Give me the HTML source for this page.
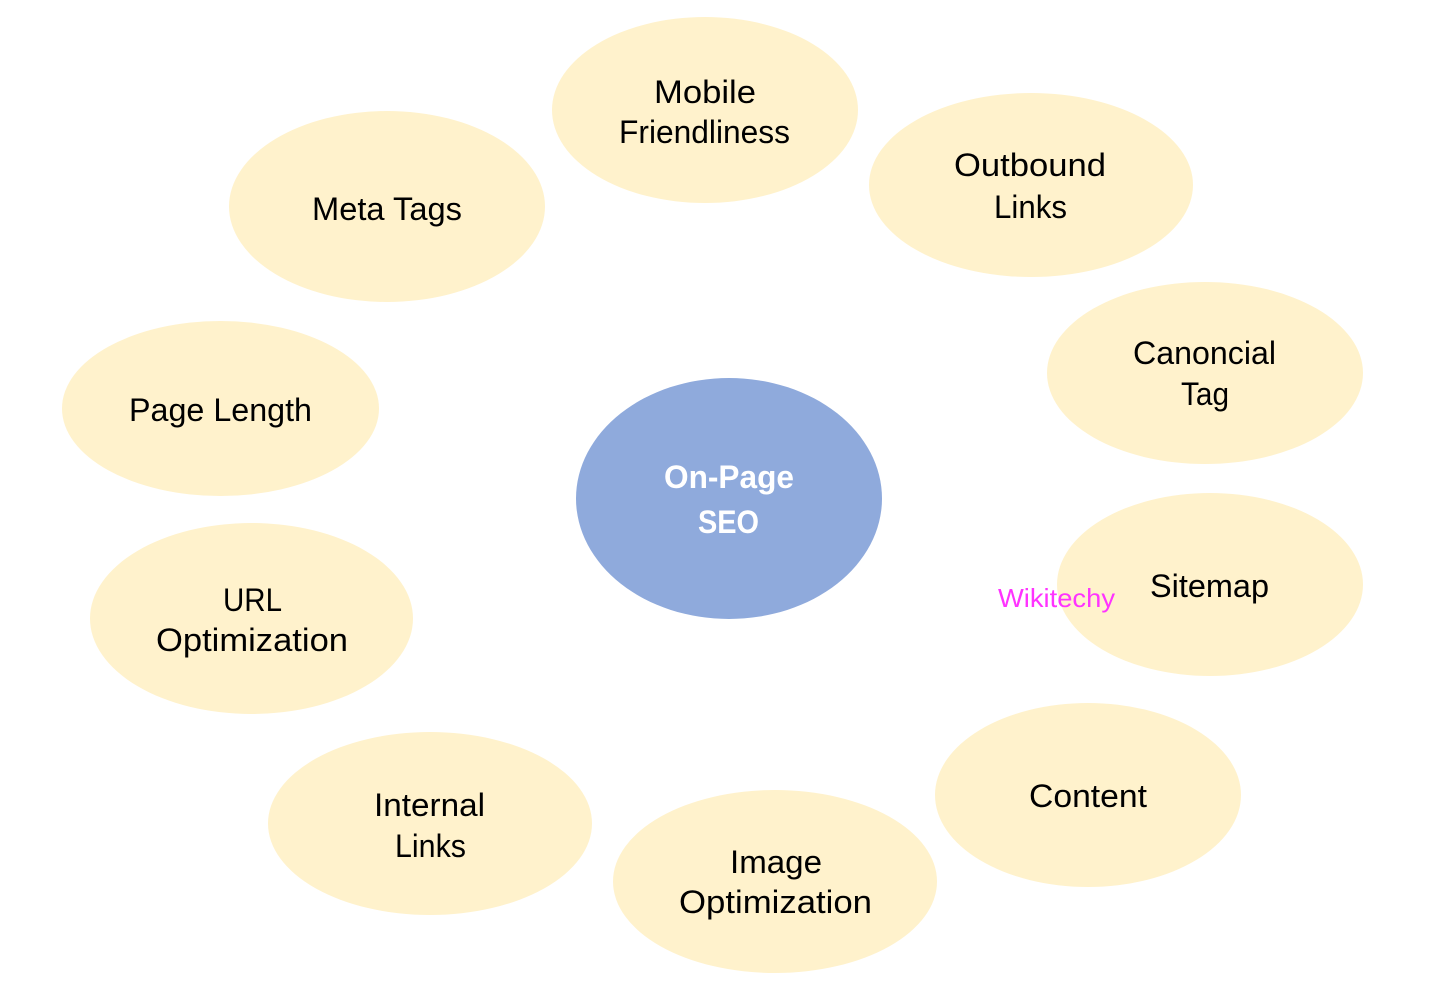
<!DOCTYPE html>
<html>
<head>
<meta charset="utf-8">
<style>
  html, body { margin: 0; padding: 0; background: #ffffff; }
  body { width: 1451px; height: 1002px; overflow: hidden; }
  svg { display: block; }
  .t { font-family: "Liberation Sans", "DejaVu Sans", sans-serif; font-size: 32px; fill: #000000; }
  .c { font-family: "Liberation Sans", "DejaVu Sans", sans-serif; font-size: 32px; font-weight: bold; fill: #ffffff; }
  .w { font-family: "Liberation Sans", Arial, sans-serif; font-size: 26px; fill: #ff33ff; }
</style>
</head>
<body>
<svg width="1451" height="1002" viewBox="0 0 1451 1002" xmlns="http://www.w3.org/2000/svg">
  <g fill="#fff2cc">
    <ellipse cx="705" cy="110" rx="153" ry="93"/>
    <ellipse cx="387" cy="206.5" rx="158" ry="95.5"/>
    <ellipse cx="1031" cy="185" rx="162" ry="92"/>
    <ellipse cx="1205" cy="373" rx="158" ry="91"/>
    <ellipse cx="220.5" cy="408.5" rx="158.5" ry="87.5"/>
    <ellipse cx="1210" cy="584.5" rx="153" ry="91.5"/>
    <ellipse cx="251.5" cy="618.5" rx="161.5" ry="95.5"/>
    <ellipse cx="1088" cy="795" rx="153" ry="92"/>
    <ellipse cx="430" cy="823.5" rx="162" ry="91.5"/>
    <ellipse cx="775" cy="881.5" rx="162" ry="91.5"/>
  </g>
  <ellipse cx="729" cy="498.5" rx="153" ry="120.5" fill="#8faadc"/>

  <g text-anchor="middle">
    <text class="t" x="705" y="103" textLength="102" lengthAdjust="spacingAndGlyphs">Mobile</text>
    <text class="t" x="704.5" y="143" textLength="171" lengthAdjust="spacingAndGlyphs">Friendliness</text>

    <text class="t" x="387" y="220" textLength="150" lengthAdjust="spacingAndGlyphs">Meta Tags</text>

    <text class="t" x="1030" y="176" textLength="152" lengthAdjust="spacingAndGlyphs">Outbound</text>
    <text class="t" x="1030.5" y="218" textLength="73" lengthAdjust="spacingAndGlyphs">Links</text>

    <text class="t" x="1204.5" y="364" textLength="143" lengthAdjust="spacingAndGlyphs">Canoncial</text>
    <text class="t" x="1205" y="405" textLength="48" lengthAdjust="spacingAndGlyphs">Tag</text>

    <text class="t" x="220.5" y="421" textLength="183" lengthAdjust="spacingAndGlyphs">Page Length</text>

    <text class="c" x="729" y="488" textLength="130" lengthAdjust="spacingAndGlyphs">On-Page</text>
    <text class="c" x="728.5" y="533" textLength="61" lengthAdjust="spacingAndGlyphs">SEO</text>

    <text class="t" x="1209.5" y="597" textLength="119" lengthAdjust="spacingAndGlyphs">Sitemap</text>

    <text class="t" x="252.5" y="611" textLength="59" lengthAdjust="spacingAndGlyphs">URL</text>
    <text class="t" x="252" y="651" textLength="192" lengthAdjust="spacingAndGlyphs">Optimization</text>

    <text class="t" x="1088" y="807" textLength="118" lengthAdjust="spacingAndGlyphs">Content</text>

    <text class="t" x="429.5" y="816" textLength="111" lengthAdjust="spacingAndGlyphs">Internal</text>
    <text class="t" x="430.5" y="857" textLength="71" lengthAdjust="spacingAndGlyphs">Links</text>

    <text class="t" x="776" y="873" textLength="92" lengthAdjust="spacingAndGlyphs">Image</text>
    <text class="t" x="775.5" y="913" textLength="193" lengthAdjust="spacingAndGlyphs">Optimization</text>

    <text class="w" x="1056.5" y="607" textLength="117" lengthAdjust="spacingAndGlyphs">Wikitechy</text>
  </g>
</svg>
</body>
</html>
